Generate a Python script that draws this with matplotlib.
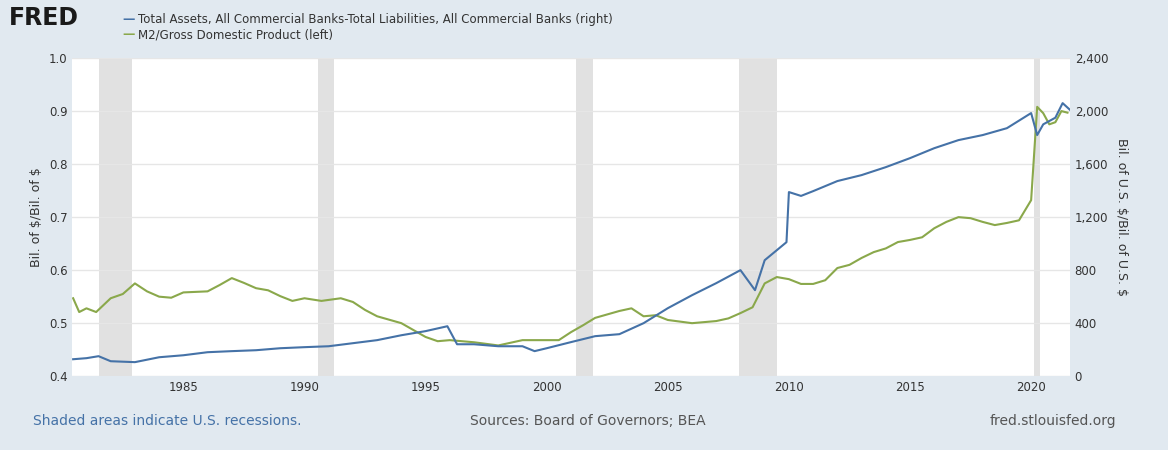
import matplotlib
matplotlib.use("Agg")
import matplotlib.pyplot as plt

green_t = [1980.45,1980.7,1981.0,1981.4,1982.0,1982.5,1983.0,1983.5,1984.0,1984.5,1985.0,1986.0,1986.5,1987.0,1987.5,1988.0,1988.5,1989.0,1989.5,1990.0,1990.7,1991.5,1992.0,1992.5,1993.0,1994.0,1995.0,1995.5,1996.0,1997.0,1998.0,1999.0,2000.0,2000.5,2001.0,2001.5,2002.0,2003.0,2003.5,2004.0,2004.5,2005.0,2006.0,2007.0,2007.5,2008.0,2008.5,2009.0,2009.5,2010.0,2010.5,2011.0,2011.5,2012.0,2012.5,2013.0,2013.5,2014.0,2014.5,2015.0,2015.5,2016.0,2016.5,2017.0,2017.5,2018.0,2018.5,2019.0,2019.5,2020.0,2020.25,2020.5,2020.75,2021.0,2021.25,2021.5]
green_v = [0.547,0.521,0.528,0.521,0.547,0.555,0.575,0.560,0.550,0.548,0.558,0.560,0.572,0.585,0.576,0.566,0.562,0.551,0.542,0.547,0.542,0.547,0.540,0.525,0.513,0.500,0.474,0.466,0.468,0.464,0.458,0.468,0.468,0.468,0.483,0.496,0.510,0.523,0.528,0.513,0.515,0.506,0.500,0.504,0.509,0.519,0.530,0.575,0.587,0.583,0.574,0.574,0.581,0.604,0.610,0.623,0.634,0.641,0.653,0.657,0.662,0.679,0.691,0.700,0.698,0.691,0.685,0.689,0.694,0.732,0.908,0.896,0.875,0.879,0.900,0.897]

blue_t = [1980.45,1981.0,1981.5,1982.0,1983.0,1984.0,1985.0,1986.0,1987.0,1988.0,1989.0,1990.0,1991.0,1992.0,1993.0,1994.0,1995.0,1995.9,1996.3,1997.0,1998.0,1999.0,1999.5,2000.0,2001.0,2002.0,2003.0,2004.0,2005.0,2006.0,2007.0,2008.0,2008.6,2009.0,2009.9,2010.0,2010.5,2011.0,2012.0,2013.0,2014.0,2015.0,2016.0,2017.0,2018.0,2019.0,2020.0,2020.25,2020.5,2021.0,2021.3,2021.6]
blue_v = [128,136,151,113,106,143,158,181,189,196,211,219,226,249,272,309,340,377,241,241,226,226,189,211,257,302,317,400,513,611,702,800,649,875,1011,1389,1360,1396,1472,1517,1577,1645,1720,1781,1819,1871,1985,1819,1900,1950,2060,2010]

recessions = [(1981.5,1982.9),(1990.55,1991.2),(2001.2,2001.9),(2007.95,2009.5),(2020.1,2020.35)]

fig = plt.figure(figsize=(11.68,4.5), dpi=100)
fig.patch.set_facecolor('#e1e9f0')
ax = fig.add_axes([0.062,0.164,0.854,0.707])
ax.set_facecolor('white')
for a,b in recessions:
    ax.axvspan(a,b,color='#e1e1e1',lw=0)
ax2 = ax.twinx()
ax.plot(green_t, green_v, color='#8aa84b', lw=1.5)
ax2.plot(blue_t, blue_v, color='#4572a7', lw=1.5)
ax.set_xlim(1980.42,2021.6)
ax.set_ylim(0.4,1.0)
ax2.set_ylim(0,2400)
ax.set_yticks([0.4,0.5,0.6,0.7,0.8,0.9,1.0])
ax.set_yticklabels(['0.4','0.5','0.6','0.7','0.8','0.9','1.0'])
ax2.set_yticks(range(0,2401,400))
ax2.set_yticklabels(['0','400','800','1,200','1,600','2,000','2,400'])
ax.set_xticks([1985,1990,1995,2000,2005,2010,2015,2020])
ax.grid(axis='y', color='#e6e6e6', lw=1)
for a in (ax,ax2):
    for s in a.spines.values(): s.set_visible(False)
    a.tick_params(length=0, labelsize=8.5, colors='#333333')
ax.set_ylabel(r'Bil. of \$/Bil. of \$', fontsize=9, color='#333333')
ax2.set_ylabel(r'Bil. of U.S. \$/Bil. of U.S. \$', fontsize=9, color='#333333', rotation=270, labelpad=14)
fig.text(0.008,0.945,'FRED', fontsize=17, fontweight='bold', color='#1a1a1a')
fig.text(0.105,0.956,'—', fontsize=9, color='#4572a7', va='center', fontweight='bold')
fig.text(0.118,0.956,'Total Assets, All Commercial Banks-Total Liabilities, All Commercial Banks (right)', fontsize=8.5, color='#333333', va='center')
fig.text(0.105,0.923,'—', fontsize=9, color='#8aa84b', va='center', fontweight='bold')
fig.text(0.118,0.923,'M2/Gross Domestic Product (left)', fontsize=8.5, color='#333333', va='center')
fig.text(0.028,0.055,'Shaded areas indicate U.S. recessions.', fontsize=10, color='#4572a7')
fig.text(0.402,0.055,'Sources: Board of Governors; BEA', fontsize=10, color='#555555')
fig.text(0.956,0.055,'fred.stlouisfed.org', fontsize=10, color='#555555', ha='right')
fig.savefig('out.png', dpi=100, facecolor=fig.get_facecolor())
